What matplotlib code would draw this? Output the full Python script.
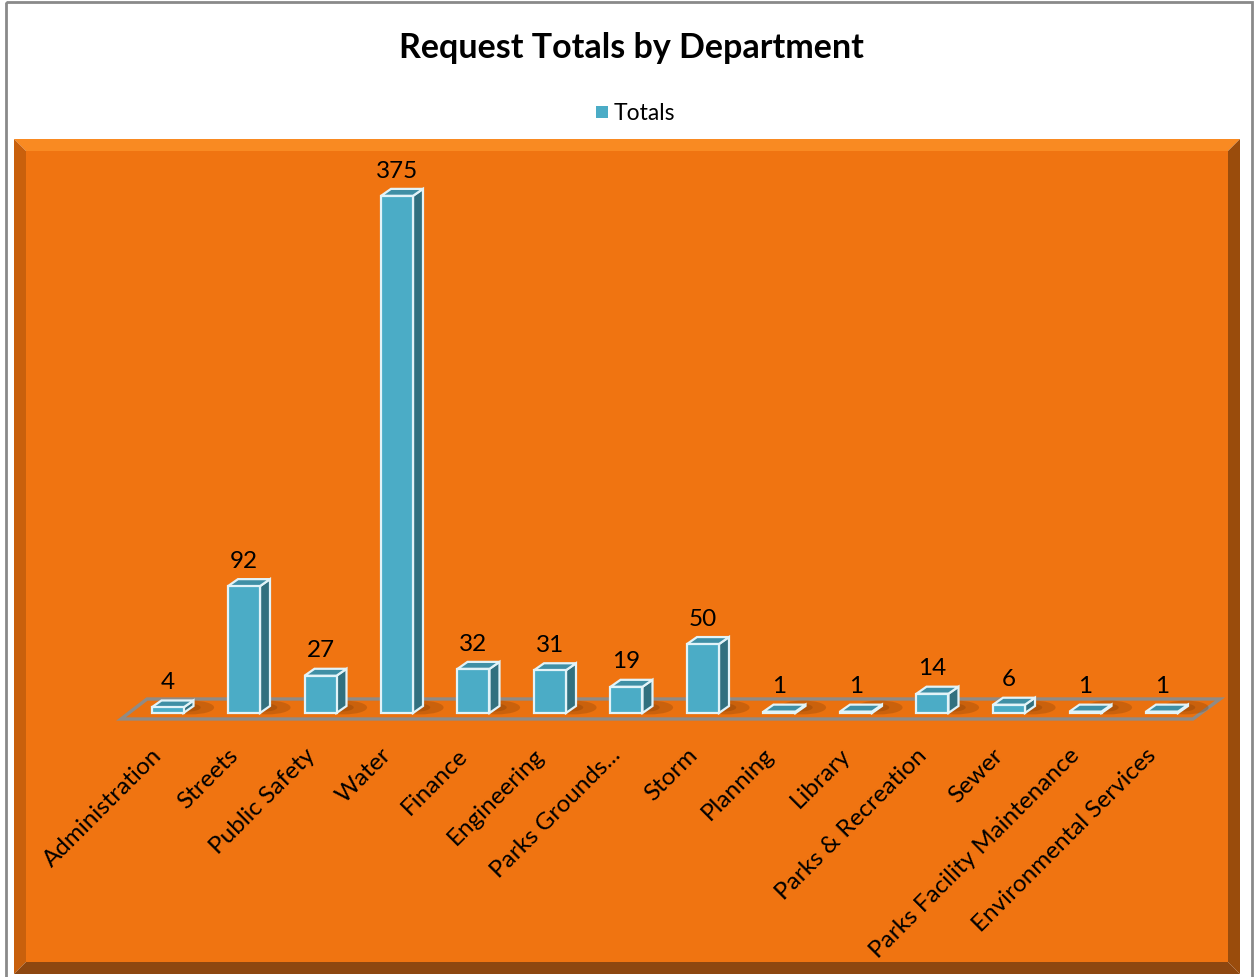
import matplotlib.pyplot as plt
from matplotlib.patches import Rectangle, Polygon, Ellipse

departments = ['Administration', 'Streets', 'Public Safety', 'Water', 'Finance',
               'Engineering', 'Parks Grounds...', 'Storm', 'Planning', 'Library',
               'Parks & Recreation', 'Sewer', 'Parks Facility Maintenance',
               'Environmental Services']
totals = [4, 92, 27, 375, 32, 31, 19, 50, 1, 1, 14, 6, 1, 1]

plt.rcParams['font.family'] = ['Lato', 'DejaVu Sans']

W, H = 1254, 978
fig = plt.figure(figsize=(W / 100, H / 100), dpi=100)

# background layer in pixel coords
bg = fig.add_axes([0, 0, 1, 1])
bg.set_xlim(0, W)
bg.set_ylim(H, 0)
bg.axis('off')
bg.add_patch(Rectangle((6, 3), 1246, 980, fill=False, ec='#8a8a8a', lw=2))

# bevelled orange panel
x0, y0, x1, y1, b = 14, 140, 1240, 975, 12
bg.add_patch(Polygon([(x0, y0), (x1, y0), (x1 - b, y0 + b), (x0 + b, y0 + b)], color='#f98a22', lw=0))
bg.add_patch(Polygon([(x0, y0), (x0 + b, y0 + b), (x0 + b, y1 - b), (x0, y1)], color='#c9600c', lw=0))
bg.add_patch(Polygon([(x0, y1), (x0 + b, y1 - b), (x1 - b, y1 - b), (x1, y1)], color='#8e4710', lw=0))
bg.add_patch(Polygon([(x1, y0), (x1, y1), (x1 - b, y1 - b), (x1 - b, y0 + b)], color='#9a4c0c', lw=0))
bg.add_patch(Rectangle((x0 + b, y0 + b), x1 - x0 - 2 * b, y1 - y0 - 2 * b, color='#f07411', lw=0))

bg.text(631, 48, 'Request Totals by Department', ha='center', va='center',
        fontsize=24.5, fontweight='bold', color='black')
bg.add_patch(Rectangle((596, 107), 12, 12, color='#4bacc6', lw=0))
bg.text(614, 113, 'Totals', ha='left', va='center', fontsize=16.5, color='black')

# main axes, pixel layout -> data scale
px_l, px_r, px_t, px_b = 100, 1235, 150, 735
x_c0, x_step = 167.5, 76.5      # pixel of category 0, pixels per category
y_zero, y_step = 714, 1.379     # pixel of value 0, pixels per unit
ax = fig.add_axes([px_l / W, 1 - px_b / H, (px_r - px_l) / W, (px_b - px_t) / H])
ax.set_xlim((px_l - x_c0) / x_step, (px_r - x_c0) / x_step)
ax.set_ylim((y_zero - px_b) / y_step, (y_zero - px_t) / y_step)
ax.patch.set_visible(False)
for s in ax.spines.values():
    s.set_visible(False)
ax.set_xticks([])
ax.set_yticks([])

bw = 32 / x_step
dx, dy = 10 / x_step, 7 / y_step

# floor
fl = (y_zero - 720) / y_step
bk = (y_zero - 700) / y_step
ax.add_patch(Polygon([((121 - x_c0) / x_step, fl), ((1193 - x_c0) / x_step, fl),
                      ((1220 - x_c0) / x_step, bk), ((147 - x_c0) / x_step, bk)],
                     closed=True, fc='#ea710f', ec='#8f8b86', lw=2.4, zorder=1))

xs = list(range(len(departments)))
for x in xs:
    ax.add_patch(Ellipse((x + bw / 2 + 0.1, 4), 0.6, 10, color='#6e3406', alpha=0.25, lw=0, zorder=1.5))
    ax.add_patch(Ellipse((x + bw / 2 + 0.05, 4), 0.35, 6, color='#6e3406', alpha=0.25, lw=0, zorder=1.5))

ax.bar(xs, totals, width=bw, color='#4bacc6', edgecolor='#e2f3f8', linewidth=1.6, zorder=3)
for x, v in zip(xs, totals):
    l, r = x - bw / 2, x + bw / 2
    ax.add_patch(Polygon([(l, v), (r, v), (r + dx, v + dy), (l + dx, v + dy)],
                         fc='#3f8fa5', ec='#e2f3f8', lw=1.6, zorder=2.9))
    ax.add_patch(Polygon([(r, 0), (r, v), (r + dx, v + dy), (r + dx, dy)],
                         fc='#31707f', ec='#e2f3f8', lw=1.6, zorder=2.8))
    ax.annotate(str(v), (x, v + dy), xytext=(0, 6), textcoords='offset points',
                ha='center', va='bottom', fontsize=17.5, color='black')

# rotated category labels, right end just below each bar
lab_y = (y_zero - 752) / y_step
for x, name in zip(xs, departments):
    ax.text(x - 9 / x_step, lab_y, name, rotation=45, rotation_mode='anchor',
            ha='right', va='center', fontsize=17.5, color='black', clip_on=False)

fig.savefig('out.png', dpi=100)
